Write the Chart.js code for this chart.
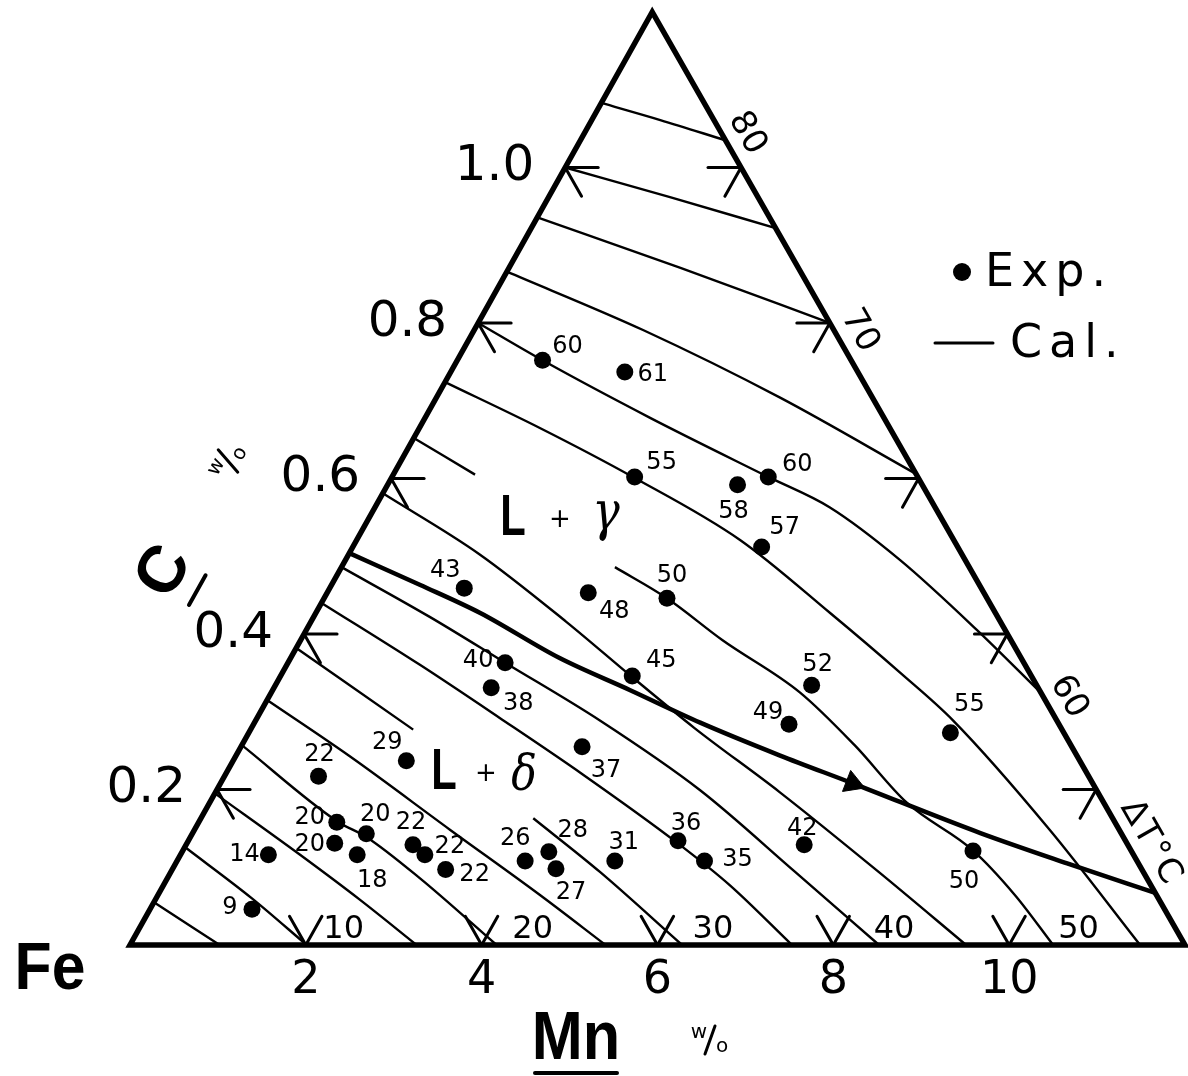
<!DOCTYPE html>
<html>
<head>
<meta charset="utf-8">
<script src="https://cdn.jsdelivr.net/npm/chart.js@4.4.1/dist/chart.umd.min.js"></script>
<style>
  html, body { margin: 0; padding: 0; background: #fff; }
  #wrap { width: 1188px; height: 1076px; }
</style>
</head>
<body>
<div id="wrap"><canvas id="chart" width="1188" height="1076"></canvas></div>
<script>
// Fe–Mn–C corner: liquidus–solidus interval ΔT (°C), experiment vs calculation.
// Every pair below is [Mn wt%, C wt%].

const mnTicks = [2, 4, 6, 8, 10];
const cTicks = [0.2, 0.4, 0.6, 0.8, 1.0];
const MN_MAX = 12;    // Mn at the right corner
const C_MAX = 1.2;    // C at the apex

// measured points
const expMn = [0.97, 1.98, 2.76, 3.98, 4.28, 4.65, 1.53, 2.97, 3.90, 2.47, 2.47, 4.00, 6.10, 6.09, 7.98, 3.88, 1.97, 1.07,
               1.57, 1.98, 1.68, 2.01, 2.58, 2.78, 3.11, 3.96, 4.17, 4.36, 4.98, 5.57, 6.00, 7.03, 8.99, 1.00, 1.16];
const expC  = [0.752, 0.737, 0.602, 0.592, 0.602, 0.512, 0.459, 0.453, 0.446, 0.363, 0.331, 0.346, 0.334, 0.284, 0.273, 0.255, 0.237, 0.217,
               0.158, 0.143, 0.131, 0.116, 0.129, 0.116, 0.097, 0.108, 0.120, 0.098, 0.108, 0.134, 0.108, 0.129, 0.121, 0.116, 0.046];
const expDT = [60, 61, 55, 58, 60, 57, 43, 48, 50, 40, 38, 45, 52, 49, 55, 37, 29, 22,
               20, 20, 20, 18, 22, 22, 22, 26, 28, 27, 31, 36, 35, 42, 50, 14, 9];

// calculated iso-ΔT curves; null = the curve is interrupted
const dT5  = [[0, 0.055], [1.02, 0]];
const dT10 = [[0, 0.126], [1.09, 0.060], [2.01, 0]];
const dT15 = [[0, 0.195], [1.36, 0.116], [2.33, 0.058], [3.26, 0]];
const dT20 = [[0, 0.257], [1.57, 0.159], [2.00, 0.139], [2.87, 0.086], [4.17, 0]];
const dT25 = [[0, 0.315], [1.31, 0.242], [2.91, 0.148], [4.35, 0.064], [5.41, 0]];
const dT30 = [[0, 0.382], [1.85, 0.277], null, [3.78, 0.163], [4.88, 0.094], [6.28, 0]];
const dT35 = [[0, 0.440], [1.52, 0.360], [2.76, 0.292], [4.07, 0.219], [5.58, 0.131], [6.44, 0.077], [7.53, 0]];
const dT40 = [[0, 0.486], [1.32, 0.422], [2.47, 0.363], [3.91, 0.289], [5.50, 0.199], [7.10, 0.094], [8.52, 0]];
const dT45 = [[0, 0.581], [1.48, 0.503], [2.90, 0.416], [4.00, 0.345], [5.04, 0.279], [6.41, 0.197], [8.05, 0.094], [9.51, 0]];
const dT50 = [[0, 0.652], [0.93, 0.605], null, [3.11, 0.486], [3.90, 0.446], [4.80, 0.392], [6.01, 0.325], [6.97, 0.257],
              [7.93, 0.183], [8.98, 0.122], [9.75, 0.064], [10.50, 0]];
const dT55 = [[0, 0.724], [1.37, 0.665], [2.74, 0.602], [4.36, 0.521], [5.85, 0.427], [7.03, 0.350], [7.93, 0.289], [9.73, 0.148], [11.49, 0]];
const dT60 = [[0, 0.800], [0.97, 0.752], [2.56, 0.678], [4.28, 0.602], [5.17, 0.563], [6.31, 0.495], [7.63, 0.405], [8.76, 0.324]];
const dT65 = [[0, 0.866], [1.92, 0.791], [3.91, 0.704], [5.94, 0.606]];
const dT70 = [[0, 0.936], [1.95, 0.871], [3.97, 0.801]];
const dT75 = [[0, 1.000], [1.38, 0.962], [2.78, 0.922]];
const dT80 = [[0, 1.083], [0.78, 1.061], [1.65, 1.035]];
const isoCurves = [dT5, dT10, dT15, dT20, dT25, dT30, dT35, dT40, dT45, dT50, dT55, dT60, dT65, dT70, dT75, dT80];

// L+δ / L+γ boundary, followed in the direction of the arrow
const boundary = [[0, 0.504], [1.01, 0.463], [1.87, 0.427], [3.06, 0.369], [4.06, 0.328], [5.07, 0.286],
                  [6.18, 0.244], [7.19, 0.208], [8.96, 0.144], [10.14, 0.105], [11.33, 0.067]];
const arrowAt = 7;

// labelled iso-ΔT values on the base and on the right edge
const baseIsoLabels = ['10', '20', '30', '40', '50'];
const rightIsoLabels = ['80', '70', '60'];

// ---- layout of the annotations (pixels / axis units, not data) ----
const baseLabelMn = [2.43, 4.58, 6.63, 8.69, 10.79];
const rightLabelC = [1.03, 0.776, 0.305];
const expLabelOffset = [[25, -14], [28, 3], [27, -14], [-4, 27], [29, -12], [23, -19], [-19, -17], [26, 19], [5, -22],
  [-27, -2], [27, 16], [29, -15], [6, -21], [-21, -11], [19, -28], [24, 24], [-19, -18], [1, -22], [-27, -4], [9, -19],
  [-25, 2], [15, 26], [-2, -22], [25, -8], [29, 5], [-10, -22], [24, -21], [15, 24], [9, -18], [8, -17], [33, -1],
  [-2, -16], [-9, 31], [-24, 0], [-22, -1]];

// The C axis leans to the right: chart x = Mn + SKEW·C puts the apex over Mn ≈ 5.94.
const SKEW = 4.95;
const toXY = p => (p === null ? { x: null, y: null } : { x: p[0] + SKEW * p[1], y: p[1] });

function pix(chart, mn, c) {
  return [chart.scales.x.getPixelForValue(mn + SKEW * c), chart.scales.y.getPixelForValue(c)];
}

const FONT = '"DejaVu Sans", sans-serif';

function text(ctx, s, x, y, o) {
  ctx.save();
  ctx.translate(x, y);
  if (o.rot) ctx.rotate(o.rot);
  if (o.sx) ctx.scale(o.sx, 1);
  ctx.font = o.font;
  ctx.letterSpacing = o.ls || '0px';
  ctx.textAlign = o.align || 'center';
  ctx.textBaseline = o.base || 'middle';
  ctx.fillStyle = '#000';
  ctx.fillText(s, 0, 0);
  ctx.restore();
}

function seg(ctx, x1, y1, x2, y2, w) {
  ctx.beginPath();
  ctx.lineWidth = w;
  ctx.moveTo(x1, y1);
  ctx.lineTo(x2, y2);
  ctx.stroke();
}

// "w/o" written as a small fraction, in a frame rotated by rot
function wPerO(ctx, x, y, rot) {
  ctx.save();
  ctx.translate(x, y);
  ctx.rotate(rot);
  ctx.fillStyle = '#000';
  ctx.strokeStyle = '#000';
  ctx.font = '20px ' + FONT;
  ctx.textAlign = 'center';
  ctx.textBaseline = 'middle';
  ctx.fillText('w', -11, -7);
  ctx.fillText('o', 12, 7);
  seg(ctx, -5, 14, 5, -14, 3);
  ctx.restore();
}

const annotations = {
  id: 'annotations',
  afterDatasetsDraw(chart) {
    const ctx = chart.ctx;
    const P = (m, c) => pix(chart, m, c);
    const fe = P(0, 0), apex = P(0, C_MAX), rc = P(MN_MAX, 0);
    const unit = (a, b) => { const dx = b[0] - a[0], dy = b[1] - a[1], l = Math.hypot(dx, dy); return [dx / l, dy / l]; };
    const uL = unit(fe, apex);     // up the left edge
    const uR = unit(apex, rc);     // down the right edge
    const leftAng = Math.atan2(uL[1], uL[0]);
    const rightAng = Math.atan2(uR[1], uR[0]);
    const T = 33;

    ctx.save();
    ctx.strokeStyle = '#000';
    ctx.lineCap = 'round';

    // ticks on the two sloping edges
    cTicks.forEach(c => {
      const [lx, ly] = P(0, c);
      seg(ctx, lx, ly, lx + T, ly, 3);
      seg(ctx, lx, ly, lx + uR[0] * T, ly + uR[1] * T, 3);
      text(ctx, c.toFixed(1), lx - 31, ly, { font: '50px ' + FONT, align: 'right' });
      const [rx, ry] = P(MN_MAX - (MN_MAX / C_MAX) * c, c);
      seg(ctx, rx, ry, rx - T, ry, 3);
      seg(ctx, rx, ry, rx - uL[0] * T, ry - uL[1] * T, 3);
    });
    // ticks on the base
    mnTicks.forEach(m => {
      const [bx, by] = P(m, 0);
      seg(ctx, bx, by, bx - uR[0] * T, by - uR[1] * T, 3);
      seg(ctx, bx, by, bx + uL[0] * T, by + uL[1] * T, 3);
      text(ctx, String(m), bx, by + 36, { font: '46px ' + FONT });
    });

    // iso-ΔT values along the base and the right edge
    baseIsoLabels.forEach((s, i) => {
      const [x, y] = P(baseLabelMn[i], 0);
      text(ctx, s, x, y - 15, { font: '32px ' + FONT });
    });
    const nOut = [uR[1], -uR[0]];
    rightIsoLabels.forEach((s, i) => {
      const c = rightLabelC[i];
      const [x, y] = P(MN_MAX - (MN_MAX / C_MAX) * c, c);
      text(ctx, s, x + nOut[0] * 22, y + nOut[1] * 22, { font: '34px ' + FONT, rot: rightAng });
    });
    {
      const c = 0.118;
      const [x, y] = P(MN_MAX - (MN_MAX / C_MAX) * c, c);
      text(ctx, 'ΔT°C', x + nOut[0] * 21, y + nOut[1] * 21, { font: '34px ' + FONT, rot: rightAng, ls: '2px' });
    }

    // values beside the measured points
    expDT.forEach((v, i) => {
      const [x, y] = P(expMn[i], expC[i]);
      const [dx, dy] = expLabelOffset[i];
      text(ctx, String(v), x + dx, y + dy, { font: '24px ' + FONT });
    });

    // phase fields
    text(ctx, 'L', 513, 519, { font: 'bold 58px "Liberation Sans", sans-serif', sx: 0.72 });
    text(ctx, '+', 560, 520, { font: '26px ' + FONT });
    text(ctx, 'γ', 606, 516, { font: 'italic 54px "DejaVu Serif", serif', sx: 0.85 });
    text(ctx, 'L', 444, 773, { font: 'bold 58px "Liberation Sans", sans-serif', sx: 0.72 });
    text(ctx, '+', 486, 774, { font: '26px ' + FONT });
    text(ctx, 'δ', 524, 777, { font: 'italic 50px "DejaVu Serif", serif', sx: 0.85 });

    // axis names
    text(ctx, 'Fe', 50, 971, { font: 'bold 66px "Liberation Sans", sans-serif', sx: 0.92 });
    text(ctx, 'Mn', 576, 1040, { font: 'bold 68px "Liberation Sans", sans-serif', sx: 0.9 });
    seg(ctx, 535, 1073, 617, 1073, 4);
    wPerO(ctx, 710, 1040, 0);

    ctx.save();
    ctx.translate(165, 572);
    ctx.rotate(leftAng);
    ctx.font = 'bold 66px "Liberation Sans", sans-serif';
    ctx.textAlign = 'center';
    ctx.textBaseline = 'middle';
    ctx.fillStyle = '#000';
    ctx.fillText('C', 0, 0);
    seg(ctx, -17, 37, 17, 37, 4);
    ctx.restore();
    wPerO(ctx, 228, 461, leftAng);

    // key
    ctx.fillStyle = '#000';
    ctx.beginPath();
    ctx.arc(962, 272, 9, 0, Math.PI * 2);
    ctx.fill();
    text(ctx, 'Exp.', 985, 274, { font: '46px ' + FONT, align: 'left', ls: '7px' });
    seg(ctx, 935, 343, 993, 343, 3);
    text(ctx, 'Cal.', 1010, 345, { font: '46px ' + FONT, align: 'left', ls: '7px' });

    ctx.restore();
  }
};

const lineBase = { showLine: true, pointRadius: 0, borderColor: '#000', fill: false, clip: false, spanGaps: false };

const datasets = [
  { ...lineBase, data: [[6, 0], [MN_MAX, 0], [0, C_MAX], [0, 0], [6, 0]].map(toXY), borderWidth: 5.5,
    borderJoinStyle: 'miter' },
  ...isoCurves.map(curve => ({ ...lineBase, data: curve.map(toXY), borderWidth: 2.4,
    cubicInterpolationMode: 'monotone' })),
  { ...lineBase, data: boundary.map(toXY), borderWidth: 4.5, cubicInterpolationMode: 'monotone' },
  { data: [toXY(boundary[arrowAt])], showLine: false, pointStyle: 'triangle', pointRadius: 13,
    pointBackgroundColor: '#000', pointBorderColor: '#000', pointBorderWidth: 1, clip: false,
    rotation: (c) => {
      const a = pix(c.chart, ...boundary[arrowAt - 1]);
      const b = pix(c.chart, ...boundary[arrowAt + 1]);
      return Math.atan2(b[1] - a[1], b[0] - a[0]) * 180 / Math.PI + 90;
    } },
  { data: expMn.map((m, i) => toXY([m, expC[i]])), showLine: false, pointRadius: 8.5,
    pointBackgroundColor: '#000', pointBorderWidth: 0, clip: false }
];

new Chart(document.getElementById('chart'), {
  type: 'scatter',
  data: { datasets },
  options: {
    responsive: false,
    animation: false,
    devicePixelRatio: 1,
    layout: { autoPadding: false, padding: { left: 130, right: 3, top: 12, bottom: 131 } },
    scales: {
      x: { type: 'linear', min: 0, max: MN_MAX, display: false },
      y: { type: 'linear', min: 0, max: C_MAX, display: false }
    },
    plugins: { legend: { display: false }, tooltip: { enabled: false } },
    events: []
  },
  plugins: [annotations]
});
</script>
</body>
</html>
